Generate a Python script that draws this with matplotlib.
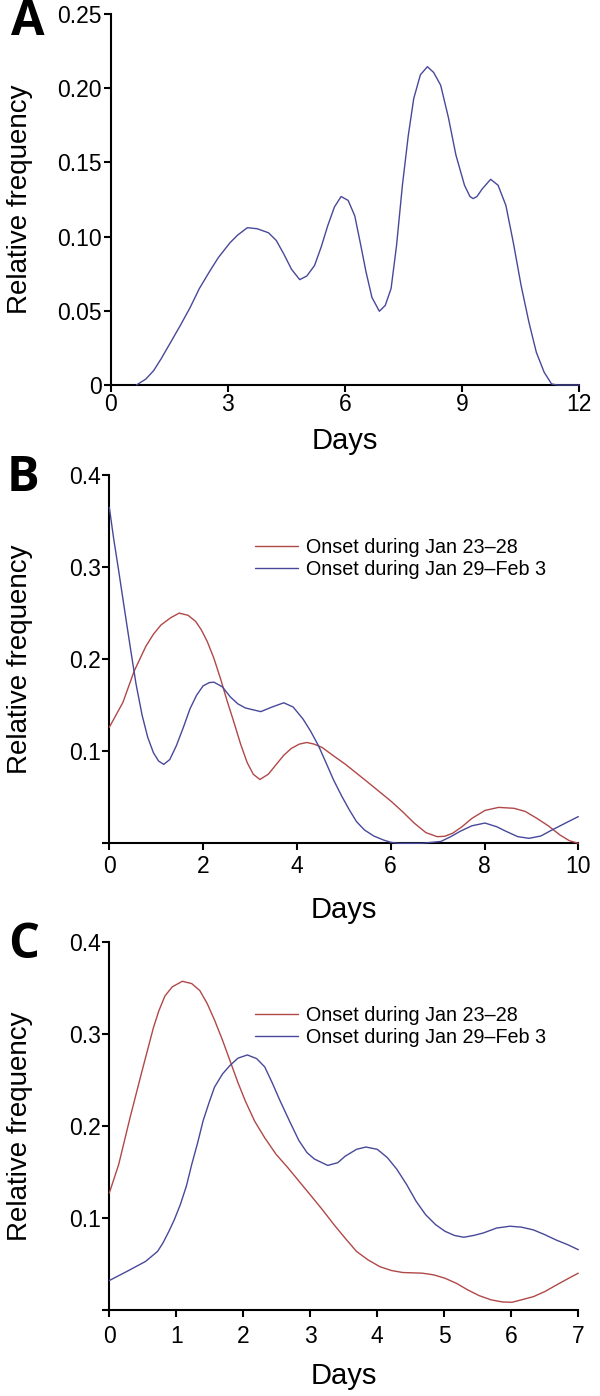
import matplotlib
matplotlib.use('Agg')
import matplotlib.pyplot as plt

plt.rcParams['font.family'] = ['Liberation Sans', 'DejaVu Sans']

# panel A: single curve
a_days = [0.66, 0.90, 1.10, 1.29, 1.54, 1.78, 2.03, 2.27, 2.52, 2.76, 3.06, 3.25,
          3.50, 3.75, 4.04, 4.24, 4.43, 4.63, 4.84, 5.02, 5.22, 5.39, 5.56, 5.73,
          5.90, 6.08, 6.25, 6.39, 6.54, 6.69, 6.88, 7.03, 7.18, 7.32, 7.47, 7.62,
          7.76, 7.93, 8.11, 8.27, 8.45, 8.65, 8.84, 9.06, 9.20, 9.28, 9.38, 9.51,
          9.73, 9.92, 10.12, 10.31, 10.51, 10.71, 10.90, 11.10, 11.29, 11.44, 12.0]
a_freq = [0.0, 0.004, 0.0097, 0.0176, 0.029, 0.040, 0.052, 0.065, 0.076, 0.086,
          0.096, 0.101, 0.106, 0.1053, 0.1026, 0.0974, 0.0884, 0.078, 0.071,
          0.0734, 0.0805, 0.093, 0.1075, 0.120, 0.127, 0.1244, 0.114, 0.096,
          0.076, 0.059, 0.0497, 0.0536, 0.065, 0.094, 0.1346, 0.168, 0.193,
          0.209, 0.2145, 0.2106, 0.202, 0.180, 0.155, 0.1346, 0.127, 0.1256,
          0.127, 0.132, 0.1386, 0.1346, 0.121, 0.096, 0.067, 0.0423, 0.022,
          0.0086, 0.0007, 0.0, 0.0]

# panel B
b_red_days = [0, 0.29, 0.53, 0.78, 0.94, 1.10, 1.31, 1.49, 1.68, 1.84, 1.96, 2.09,
              2.23, 2.37, 2.51, 2.66, 2.80, 2.94, 3.07, 3.21, 3.39, 3.56, 3.72,
              3.88, 4.05, 4.21, 4.37, 4.54, 4.78, 5.03, 5.52, 6.01, 6.26, 6.50,
              6.75, 6.99, 7.15, 7.32, 7.52, 7.73, 8.01, 8.30, 8.63, 8.87, 9.12,
              9.36, 9.61, 9.81, 10.0]
b_red_freq = [0.126, 0.153, 0.187, 0.214, 0.227, 0.237, 0.245, 0.250, 0.2476,
              0.241, 0.232, 0.219, 0.201, 0.179, 0.155, 0.131, 0.1077, 0.0876,
              0.075, 0.0693, 0.075, 0.0857, 0.0956, 0.103, 0.1077, 0.1095, 0.1077,
              0.104, 0.095, 0.086, 0.066, 0.0456, 0.034, 0.022, 0.0116, 0.0072,
              0.0076, 0.0109, 0.018, 0.027, 0.0357, 0.039, 0.038, 0.0346, 0.027,
              0.019, 0.009, 0.0028, 0.0]
b_blue_days = [0, 0.09, 0.2, 0.33, 0.45, 0.57, 0.70, 0.82, 0.94, 1.05, 1.16, 1.29,
               1.43, 1.58, 1.72, 1.86, 2.0, 2.13, 2.23, 2.41, 2.58, 2.74, 2.90,
               3.23, 3.47, 3.72, 3.92, 4.13, 4.29, 4.46, 4.62, 4.78, 4.95, 5.11,
               5.27, 5.44, 5.64, 5.85, 6.01, 6.17, 6.66, 7.07, 7.28, 7.48, 7.73,
               8.01, 8.26, 8.46, 8.71, 8.95, 9.20, 9.44, 9.69, 10.0]
b_blue_freq = [0.365, 0.332, 0.296, 0.252, 0.212, 0.173, 0.139, 0.115, 0.0985,
               0.0894, 0.0857, 0.091, 0.106, 0.126, 0.146, 0.1607, 0.171, 0.1745,
               0.175, 0.170, 0.159, 0.1515, 0.147, 0.143, 0.148, 0.1526, 0.148,
               0.135, 0.122, 0.106, 0.0876, 0.069, 0.0518, 0.037, 0.0236, 0.0145,
               0.0079, 0.0035, 0.001, 0.0, 0.0, 0.002, 0.0072, 0.013, 0.019, 0.022,
               0.018, 0.013, 0.0072, 0.0054, 0.0079, 0.0145, 0.021, 0.029]

# panel C
c_red_days = [0, 0.14, 0.31, 0.49, 0.66, 0.74, 0.83, 0.94, 1.09, 1.23, 1.35, 1.46,
              1.57, 1.69, 1.80, 1.92, 2.03, 2.17, 2.32, 2.49, 2.66, 2.83, 3.0,
              3.18, 3.35, 3.52, 3.69, 3.86, 4.04, 4.21, 4.38, 4.67, 4.84, 5.01,
              5.18, 5.35, 5.52, 5.70, 5.87, 6.01, 6.15, 6.33, 6.50, 6.67, 6.84, 7.0]
c_red_freq = [0.127, 0.158, 0.209, 0.26, 0.307, 0.325, 0.341, 0.351, 0.357, 0.3545,
              0.347, 0.333, 0.315, 0.293, 0.271, 0.247, 0.227, 0.205, 0.187, 0.169,
              0.155, 0.140, 0.125, 0.109, 0.093, 0.078, 0.0636, 0.0545, 0.047,
              0.0429, 0.0407, 0.040, 0.0382, 0.0345, 0.029, 0.0218, 0.0156, 0.011,
              0.0087, 0.0084, 0.011, 0.0145, 0.020, 0.027, 0.0338, 0.040]
c_blue_days = [0, 0.26, 0.54, 0.72, 0.80, 0.89, 0.97, 1.06, 1.15, 1.23, 1.32, 1.40,
               1.49, 1.57, 1.69, 1.80, 1.92, 2.06, 2.20, 2.32, 2.43, 2.55, 2.70,
               2.83, 2.95, 3.06, 3.26, 3.41, 3.52, 3.69, 3.83, 4.0, 4.15, 4.29,
               4.44, 4.58, 4.72, 4.87, 5.01, 5.15, 5.29, 5.44, 5.58, 5.78, 5.98,
               6.15, 6.33, 6.50, 6.67, 6.84, 7.0]
c_blue_freq = [0.032, 0.0418, 0.0527, 0.0636, 0.0727, 0.0855, 0.098, 0.1145,
               0.1345, 0.158, 0.182, 0.2055, 0.2255, 0.242, 0.2564, 0.2655, 0.2735,
               0.277, 0.273, 0.264, 0.247, 0.227, 0.2036, 0.184, 0.171, 0.164,
               0.157, 0.160, 0.167, 0.1745, 0.177, 0.1745, 0.1655, 0.153, 0.136,
               0.118, 0.1036, 0.0927, 0.0855, 0.081, 0.079, 0.081, 0.0836, 0.089,
               0.091, 0.090, 0.087, 0.0818, 0.076, 0.071, 0.0655]

series_labels = ['Onset during Jan 23\u201328', 'Onset during Jan 29\u2013Feb 3']
red = '#B04848'
blue = '#48489A'

W, H = 600, 1396
fig = plt.figure(figsize=(W / 100, H / 100), dpi=100)


def make_axes(left_px, right_px, top_px, bottom_px):
    return fig.add_axes([left_px / W, 1 - bottom_px / H, (right_px - left_px) / W,
                         (bottom_px - top_px) / H])


def style(ax, xpad, days_y):
    for s in ['top', 'right']:
        ax.spines[s].set_visible(False)
    for s in ['left', 'bottom']:
        ax.spines[s].set_linewidth(1.5)
    ax.tick_params(axis='both', direction='out', length=4.8, width=1.5,
                   labelsize=16.5, colors='black')
    ax.tick_params(axis='x', pad=xpad)
    ax.tick_params(axis='y', pad=1.5)
    ax.set_ylabel('Relative frequency', fontsize=20, ha='center', va='center')
    ax.yaxis.set_label_coords(-(ax.get_position().x0 * W - 20) /
                              (ax.get_position().width * W), 0.5)
    ax.set_xlabel('Days', fontsize=21)
    ax.xaxis.set_label_coords(0.5, days_y)


def add_legend(ax, top):
    ax.legend(loc='upper left', bbox_to_anchor=(0.31, top), frameon=False,
              fontsize=14.2, handlelength=2.2, handletextpad=0.4, labelspacing=0.16,
              borderpad=0, borderaxespad=0)


# lines sit on top of the axis lines, as in the original
line_kw = dict(lw=1.0, solid_joinstyle='round', solid_capstyle='round',
               zorder=3, clip_on=False)

# A
ax = make_axes(110.7, 579.3, 14, 385)
ax.plot(a_days, a_freq, color=blue, **line_kw)
ax.set_xlim(0, 12)
ax.set_ylim(0, 0.25)
ax.set_xticks([0, 3, 6, 9, 12])
ax.set_yticks([0, 0.05, 0.10, 0.15, 0.20, 0.25])
ax.set_yticklabels(['0', '0.05', '0.10', '0.15', '0.20', '0.25'])
style(ax, 1.0, -0.112)

# B
ax = make_axes(109.3, 578.3, 475, 843.3)
ax.plot(b_red_days, b_red_freq, color=red, label=series_labels[0], **line_kw)
ax.plot(b_blue_days, b_blue_freq, color=blue, label=series_labels[1], **line_kw)
ax.set_xlim(0, 10)
ax.set_ylim(0, 0.4)
ax.set_xticks([0, 2, 4, 6, 8, 10])
ax.set_yticks([0, 0.1, 0.2, 0.3, 0.4])
ax.set_yticklabels(['', '0.1', '0.2', '0.3', '0.4'])
style(ax, 3.6, -0.144)
add_legend(ax, 0.83)

# C
ax = make_axes(109.3, 578.3, 941.7, 1310)
ax.plot(c_red_days, c_red_freq, color=red, label=series_labels[0], **line_kw)
ax.plot(c_blue_days, c_blue_freq, color=blue, label=series_labels[1], **line_kw)
ax.set_xlim(0, 7)
ax.set_ylim(0, 0.4)
ax.set_xticks(range(8))
ax.set_yticks([0, 0.1, 0.2, 0.3, 0.4])
ax.set_yticklabels(['', '0.1', '0.2', '0.3', '0.4'])
style(ax, 5.8, -0.1425)
add_legend(ax, 0.825)

# panel letters
for letter, x, y in [('A', 27.5, 22.5), ('B', 23, 479), ('C', 24, 945)]:
    fig.text(x / W, 1 - y / H, letter, fontsize=35, fontweight='bold',
             family='Open Sans', ha='center', va='center')

fig.savefig('out.png', dpi=100)
